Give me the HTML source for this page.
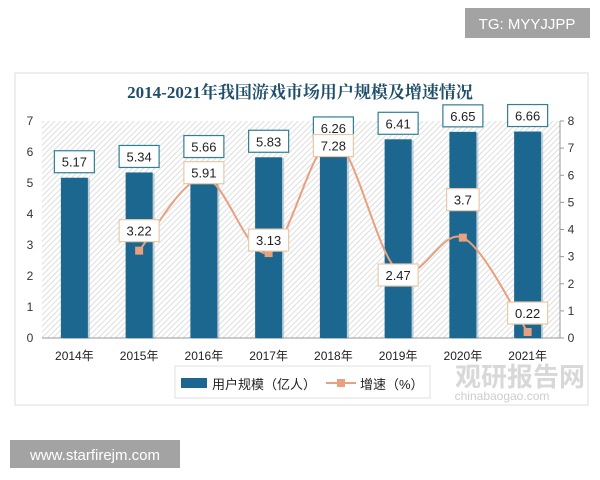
<!DOCTYPE html>
<html><head><meta charset="utf-8"><style>
html,body{margin:0;padding:0;background:#fff;width:600px;height:480px;overflow:hidden}
text{font-family:"Liberation Sans","Noto Sans CJK SC",sans-serif}
</style></head><body>
<svg id="c" width="600" height="480" xmlns="http://www.w3.org/2000/svg">
<defs>
<pattern id="hatch" width="4" height="4" patternUnits="userSpaceOnUse" patternTransform="rotate(45)">
<rect width="4" height="4" fill="#fff"/><line x1="0" y1="0" x2="0" y2="4" stroke="#d6d6d6" stroke-width="1.6"/>
</pattern>
</defs>
<rect x="465" y="8" width="125" height="30" fill="#a3a3a3"/>
<text x="527" y="29" font-size="15" fill="#fff" text-anchor="middle">TG: MYYJJPP</text>
<rect x="15" y="73" width="573" height="332" fill="#fff" stroke="#dcdcdc"/>
<text x="300" y="98" font-size="17" font-weight="bold" fill="#1f4e6b" text-anchor="middle" style="font-family:'Liberation Serif','Noto Serif CJK SC',serif">2014-2021年我国游戏市场用户规模及增速情况</text>
<rect x="42" y="121" width="518" height="217" fill="url(#hatch)"/>
<g id="g"></g>
<rect x="175" y="366" width="255" height="32" fill="#fff" stroke="#e0e0e0"/>
<rect x="181" y="378" width="26" height="10" fill="#1b6790"/>
<text x="212" y="389" font-size="13" fill="#222">用户规模（亿人）</text>
<line x1="326" y1="383" x2="356" y2="383" stroke="#e8a07e" stroke-width="2"/>
<rect x="337" y="379" width="8" height="8" fill="#e8a07e"/>
<text x="360" y="389" font-size="13" fill="#222">增速（%）</text>
<text x="520" y="386" font-size="26" font-weight="bold" fill="#c8c8c8" text-anchor="middle" opacity="0.7">观研报告网</text>
<text x="502" y="400" font-size="12" fill="#c0c0c0" text-anchor="middle" opacity="0.8">chinabaogao.com</text>
<rect x="10" y="440" width="170" height="28" fill="#a3a3a3"/>
<text x="95" y="460" font-size="15" fill="#fff" text-anchor="middle">www.starfirejm.com</text>
</svg>
<script>
const years=["2014年","2015年","2016年","2017年","2018年","2019年","2020年","2021年"];
const users=[5.17,5.34,5.66,5.83,6.26,6.41,6.65,6.66];
const growth=[null,3.22,5.91,3.13,7.28,2.47,3.7,0.22];
const leftTicks=[0,1,2,3,4,5,6,7];
const rightTicks=[0,1,2,3,4,5,6,7,8];
const growthLabelOffset=[0,-20,-5,-13,5,4,-38,-19];
const NS="http://www.w3.org/2000/svg";
const g=document.getElementById('g');
const X0=42,X1=560,Y0=338,Y1=121;
const bw=(X1-X0)/years.length;
const xc=i=>X0+bw*(i+0.5);
const yl=v=>Y0-(v/7)*(Y0-Y1);
const yr=v=>Y0-(v/8)*(Y0-Y1);
function el(t,a,txt){const e=document.createElementNS(NS,t);for(const k in a)e.setAttribute(k,a[k]);if(txt!==undefined)e.textContent=txt;g.appendChild(e);return e;}
let e=el('line',{x1:X0,y1:Y0,x2:X1,y2:Y0,stroke:'#999'});


e=el('line',{x1:X1,y1:Y1,x2:X1,y2:Y0,stroke:'#999'});


leftTicks.forEach(v=>{const t=el('text',{x:30,y:yl(v)+4,'font-size':12,fill:'#333','text-anchor':'middle'},v);

});
rightTicks.forEach(v=>{el('line',{x1:X1,y1:yr(v),x2:X1+4,y2:yr(v),stroke:'#999'});const t=el('text',{x:571,y:yr(v)+4,'font-size':12,fill:'#333','text-anchor':'middle'},v);

});
years.forEach((y,i)=>{
 el('rect',{x:xc(i)-13.5+2,y:yl(users[i])+1,width:27,height:Y0-yl(users[i]),fill:'#9bb3bf',opacity:0.6});
 const r=el('rect',{x:xc(i)-13.5,y:yl(users[i]),width:27,height:Y0-yl(users[i]),fill:'#1b6790'});
 
 
 const t=el('text',{x:xc(i),y:360,'font-size':12,fill:'#222','text-anchor':'middle'},y);
 
 
});
function label(x,y,txt,border,name){
 const w=txt.length*7.5+10;
 const r=el('rect',{x:x-w/2,y:y-11,width:w,height:22,fill:'#fff',stroke:border,'stroke-width':1.2});
 
 
 el('text',{x:x,y:y+5,'font-size':13,fill:'#222','text-anchor':'middle'},txt);
}
users.forEach((v,i)=>label(xc(i),yl(v)-16,v.toFixed(2),'#2f7f96','users-value-label'));
const pts=[];growth.forEach((v,i)=>{if(v!==null)pts.push([xc(i),yr(v)]);});
let d='M'+pts[0][0]+','+pts[0][1];
for(let i=0;i<pts.length-1;i++){const p0=pts[i-1]||pts[i],p1=pts[i],p2=pts[i+1],p3=pts[i+2]||p2;
 d+=' C'+(p1[0]+(p2[0]-p0[0])/6)+','+(p1[1]+(p2[1]-p0[1])/6)+' '+(p2[0]-(p3[0]-p1[0])/6)+','+(p2[1]-(p3[1]-p1[1])/6)+' '+p2[0]+','+p2[1];}
e=el('path',{d:d,fill:'none',stroke:'#e8a07e','stroke-width':2});


growth.forEach((v,i)=>{if(v===null)return;
 const m=el('rect',{x:xc(i)-4,y:yr(v)-4,width:8,height:8,fill:'#e8a07e'});
 
 
});
growth.forEach((v,i)=>{if(v===null)return;label(xc(i),yr(v)+growthLabelOffset[i],String(v),'#e8c9a8','growth-value-label');});
</script>
</body></html>
